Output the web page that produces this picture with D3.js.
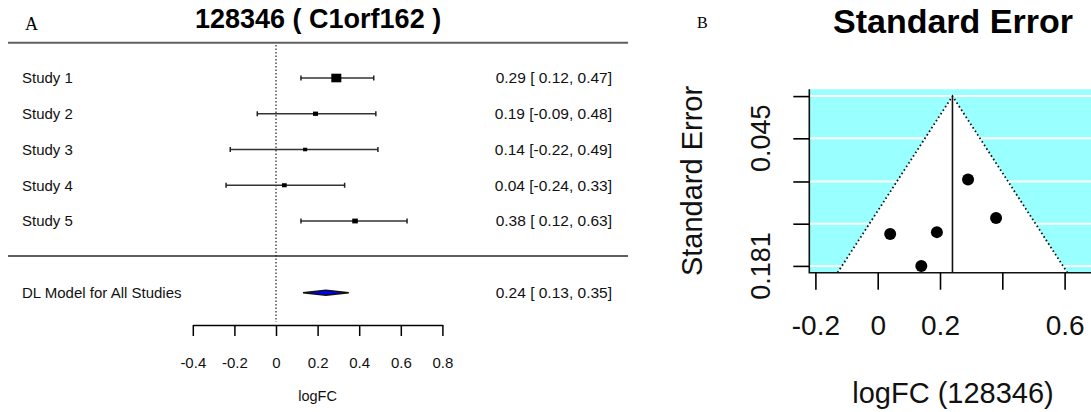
<!DOCTYPE html>
<html>
<head>
<meta charset="utf-8">
<script src="https://cdn.jsdelivr.net/npm/d3@7"></script>
<style>
  body { margin: 0; background: #fff; }
  svg { display: block; font-family: 'Liberation Sans', Arial, sans-serif; }
</style>
</head>
<body>
<svg id="chart" width="1091" height="412"></svg>
<script>
// ---- data ----
const studies = ['Study 1', 'Study 2', 'Study 3', 'Study 4', 'Study 5']
const estimates = [0.29, 0.19, 0.14, 0.04, 0.38]
const lower = [0.12, -0.09, -0.22, -0.24, 0.12]
const upper = [0.47, 0.48, 0.49, 0.33, 0.63]
const weights = [34, 17, 14, 16, 19]
const stdErrors = [0.089, 0.145, 0.181, 0.147, 0.130]
const pooledLabel = 'DL Model for All Studies'
const pooled = [0.24, 0.13, 0.35] // est, lo, hi
const forestTicks = [-0.4, -0.2, 0, 0.2, 0.4, 0.6, 0.8]
const forestLabels = ['-0.4', '-0.2', '0', '0.2', '0.4', '0.6', '0.8']
const funnelXTicks = [-0.2, 0, 0.2, 0.4, 0.6]
const funnelXLabels = ['-0.2', '0', '0.2', '', '0.6']
const funnelYTicks = [0, 0.045, 0.091, 0.136, 0.181]
const funnelYLabels = ['', '0.045', '', '', '0.181']

// R style numbers: plain hyphen for negatives
const fmt = v => d3.format('.2f')(v).replace('\u2212', '-')
const ciText = (e, l, h) => `${fmt(e)} [${l < 0 ? '' : ' '}${fmt(l)}, ${fmt(h)}]`

const svg = d3.select('#chart')

/// Panel A: forest plot ////////////////////////
const A = svg.append('g')

A.append('text').attr('x', 25).attr('y', 30)
  .attr('font-family', "'Liberation Serif', serif").attr('font-size', 18).text('A')
A.append('text').attr('x', 195).attr('y', 28)
  .attr('font-size', 27).attr('font-weight', 'bold').text('128346 ( C1orf162 )')

const fx = d3.scaleLinear().domain([-0.4, 0.8]).range([192.8, 442.4])
const rowY = d3.scalePoint().domain(studies).range([78, 221])
const boxScale = d3.scaleLinear().domain([0, d3.max(weights)]).range([0, 10])

// separators
;[42.7, 256].forEach(y => {
  A.append('line').attr('x1', 8).attr('x2', 628).attr('y1', y).attr('y2', y)
    .attr('stroke', '#606060').attr('stroke-width', 2)
})

// zero line
A.append('line').attr('x1', fx(0)).attr('x2', fx(0)).attr('y1', 45).attr('y2', 322)
  .attr('stroke', '#222').attr('stroke-width', 1.2).attr('stroke-dasharray', '1.5,2')

const rows = A.selectAll('.row').data(studies).enter().append('g').attr('class', 'row')

rows.append('text').attr('x', 22).attr('y', d => rowY(d)).attr('dy', '0.35em')
  .attr('font-size', 15).attr('fill', '#111').text(d => d)

rows.append('line')
  .attr('x1', (d, i) => fx(lower[i])).attr('x2', (d, i) => fx(upper[i]))
  .attr('y1', d => rowY(d)).attr('y2', d => rowY(d))
  .attr('stroke', '#333').attr('stroke-width', 1.6)
rows.append('path')
  .attr('d', (d, i) => {
    const y = rowY(d)
    return `M${fx(lower[i])},${y - 2.5}V${y + 2.5}M${fx(upper[i])},${y - 2.5}V${y + 2.5}`
  })
  .attr('stroke', '#222').attr('stroke-width', 1.5)
rows.append('rect')
  .attr('x', (d, i) => fx(estimates[i]) - boxScale(weights[i]) / 2)
  .attr('y', (d, i) => rowY(d) - boxScale(weights[i]) * 0.43)
  .attr('width', (d, i) => boxScale(weights[i]))
  .attr('height', (d, i) => boxScale(weights[i]) * 0.86)
  .attr('fill', '#000')

rows.append('text').attr('x', 612).attr('y', d => rowY(d)).attr('dy', '0.35em')
  .attr('text-anchor', 'end').attr('font-size', 15.5).attr('fill', '#111')
  .text((d, i) => ciText(estimates[i], lower[i], upper[i]))

// pooled
const py = 292.7
A.append('text').attr('x', 22).attr('y', py).attr('dy', '0.35em')
  .attr('font-size', 15).attr('fill', '#111').text(pooledLabel)
A.append('polygon')
  .attr('points', [[fx(pooled[1]), py], [fx(pooled[0]), py - 2.6], [fx(pooled[2]), py], [fx(pooled[0]), py + 2.6]].join(' '))
  .attr('fill', '#0000ee').attr('stroke', '#111').attr('stroke-width', 1.4)
A.append('text').attr('x', 612).attr('y', py).attr('dy', '0.35em')
  .attr('text-anchor', 'end').attr('font-size', 15.5).attr('fill', '#111')
  .text(ciText(pooled[0], pooled[1], pooled[2]))

// axis
const fAxis = A.append('g').attr('transform', 'translate(0,325)')
  .call(d3.axisBottom(fx).tickValues(forestTicks).tickSize(11).tickSizeOuter(0).tickPadding(21)
    .tickFormat((d, i) => forestLabels[i]))
fAxis.select('.domain').attr('stroke-width', 1.5)
fAxis.selectAll('.tick line').attr('stroke-width', 1.5)
fAxis.selectAll('text').attr('font-size', 15).attr('font-family', "'Liberation Sans', Arial, sans-serif").attr('fill', '#111')
A.append('text').attr('x', fx(0.2)).attr('y', 401).attr('text-anchor', 'middle')
  .attr('font-size', 14.5).attr('fill', '#111').text('logFC')

/// Panel B: funnel plot ////////////////////////
const B = svg.append('g')
B.append('text').attr('x', 697).attr('y', 28)
  .attr('font-family', "'Liberation Serif', serif").attr('font-size', 16).text('B')
B.append('text').attr('x', 833).attr('y', 33)
  .attr('font-size', 34).attr('font-weight', 'bold').text('Standard Error')

const maxSe = d3.max(stdErrors)
const gx = d3.scaleLinear().domain([-0.2196, 0.72]).range([809.3, 809.3 + 0.9396 * 311.5])
const gy = d3.scaleLinear().domain([-maxSe * 0.04, maxSe * 1.04]).range([89.3, 272.7])
const boxLeft = gx.range()[0]
const boxRight = gx.range()[1]
const boxTop = gy.range()[0]
const boxBottom = gy.range()[1]

B.append('rect').attr('x', boxLeft).attr('y', boxTop).attr('width', boxRight - boxLeft).attr('height', boxBottom - boxTop)
  .attr('fill', '#99ffff')
B.selectAll('.grid').data(funnelYTicks).enter().append('line').attr('class', 'grid')
  .attr('x1', boxLeft).attr('x2', boxRight).attr('y1', d => gy(d)).attr('y2', d => gy(d))
  .attr('stroke', '#fff').attr('stroke-width', 2)

const seBottom = gy.invert(boxBottom)
const tri = [[gx(pooled[0]), gy(0)], [gx(pooled[0] + 1.96 * seBottom), boxBottom], [gx(pooled[0] - 1.96 * seBottom), boxBottom]]
B.append('polygon').attr('points', tri.join(' ')).attr('fill', '#fff')
B.append('path').attr('d', `M${tri[2]}L${tri[0]}L${tri[1]}`)
  .attr('fill', 'none').attr('stroke', '#111').attr('stroke-width', 1.8).attr('stroke-dasharray', '1.6,2.6')
B.append('line').attr('x1', gx(pooled[0])).attr('x2', gx(pooled[0])).attr('y1', gy(0)).attr('y2', boxBottom)
  .attr('stroke', '#111').attr('stroke-width', 1.6)

B.selectAll('.pt').data(estimates).enter().append('circle').attr('class', 'pt')
  .attr('cx', d => gx(d)).attr('cy', (d, i) => gy(stdErrors[i])).attr('r', 6).attr('fill', '#000')

// box edges (left and bottom)
B.append('path').attr('d', `M${boxLeft},${boxTop}V${boxBottom}H${boxRight}`)
  .attr('fill', 'none').attr('stroke', '#111').attr('stroke-width', 1.6)

const bx = B.append('g').attr('transform', `translate(0,${boxBottom})`)
  .call(d3.axisBottom(gx).tickValues(funnelXTicks).tickSize(17).tickPadding(25)
    .tickFormat((d, i) => funnelXLabels[i]))
bx.select('.domain').remove()
bx.selectAll('.tick line').attr('stroke-width', 1.6)
bx.selectAll('text').attr('font-size', 28).attr('font-family', "'Liberation Sans', Arial, sans-serif").attr('fill', '#111')

const by = B.append('g').attr('transform', `translate(${boxLeft},0)`)
  .call(d3.axisLeft(gy).tickValues(funnelYTicks).tickSize(16).tickFormat(''))
by.select('.domain').remove()
by.selectAll('.tick line').attr('stroke-width', 1.6)
B.selectAll('.ylab').data(funnelYTicks).enter().append('text').attr('class', 'ylab')
  .attr('transform', d => `translate(770,${gy(d)}) rotate(-90)`)
  .attr('text-anchor', 'middle').attr('font-size', 27).attr('fill', '#111')
  .text((d, i) => funnelYLabels[i])

B.append('text').attr('transform', 'translate(702,181) rotate(-90)')
  .attr('text-anchor', 'middle').attr('font-size', 29).attr('fill', '#111').text('Standard Error')
B.append('text').attr('x', 953).attr('y', 403).attr('text-anchor', 'middle')
  .attr('font-size', 29).attr('fill', '#111').text('logFC (128346)')
</script>
</body>
</html>
